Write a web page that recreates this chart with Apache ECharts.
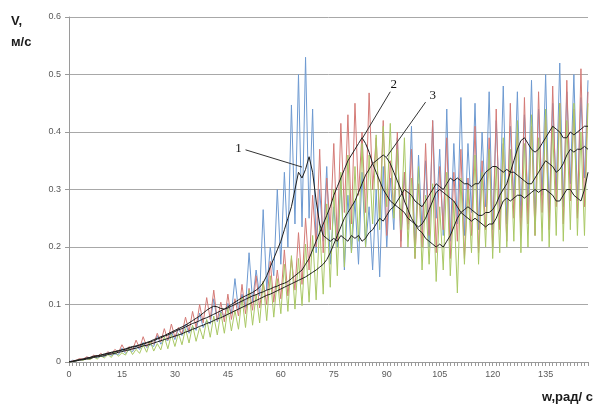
<!DOCTYPE html>
<html><head><meta charset="utf-8">
<script src="https://cdn.jsdelivr.net/npm/echarts@6/dist/echarts.min.js"></script>
<style>html,body{margin:0;padding:0;background:#fff}#c{width:595px;height:406px}</style>
</head><body><div id="c"></div>
<script>
// x categories: w, rad/s (0..147)
const categories = Array.from({length: 148}, (_, i) => String(i));
const xTickLabels = ['0','15','30','45','60','75','90','105','120','135'];
const yTickLabels = ['0','0.1','0.2','0.3','0.4','0.5','0.6'];

// noisy measured series
const series1 = [
0,0.003,0.002,0.005,0.004,0.008,0.005,0.011,0.007,0.010,
0.009,0.017,0.011,0.014,0.013,0.024,0.015,0.021,0.018,0.028,
0.022,0.034,0.025,0.030,0.027,0.046,0.031,0.040,0.037,0.052,
0.039,0.058,0.046,0.066,0.050,0.062,0.055,0.085,0.060,0.072,
0.066,0.110,0.070,0.088,0.078,0.102,0.084,0.145,0.090,0.118,
0.095,0.190,0.105,0.160,0.115,0.265,0.125,0.200,0.150,0.300,
0.170,0.330,0.200,0.447,0.240,0.500,0.235,0.530,0.250,0.440,
0.190,0.300,0.210,0.340,0.170,0.270,0.200,0.320,0.160,0.290,
0.190,0.280,0.170,0.330,0.200,0.270,0.160,0.300,0.148,0.340,
0.200,0.320,0.230,0.390,0.210,0.330,0.240,0.410,0.190,0.360,
0.230,0.350,0.200,0.420,0.250,0.370,0.220,0.440,0.210,0.380,
0.240,0.460,0.220,0.380,0.260,0.450,0.230,0.400,0.270,0.470,
0.230,0.420,0.260,0.480,0.240,0.410,0.280,0.470,0.250,0.430,
0.270,0.490,0.240,0.440,0.290,0.500,0.260,0.450,0.300,0.520,
0.270,0.470,0.310,0.500,0.280,0.460,0.320,0.490];
const series2 = [
0,0.002,0.003,0.006,0.005,0.009,0.007,0.012,0.009,0.015,
0.011,0.018,0.013,0.022,0.016,0.030,0.018,0.027,0.021,0.038,
0.024,0.044,0.027,0.036,0.031,0.050,0.035,0.058,0.038,0.066,
0.043,0.060,0.049,0.078,0.053,0.088,0.060,0.100,0.068,0.112,
0.074,0.125,0.072,0.104,0.070,0.118,0.074,0.110,0.080,0.135,
0.084,0.128,0.090,0.150,0.094,0.140,0.100,0.175,0.104,0.160,
0.110,0.195,0.115,0.180,0.125,0.225,0.135,0.250,0.160,0.290,
0.200,0.370,0.190,0.320,0.230,0.380,0.210,0.415,0.260,0.430,
0.240,0.450,0.290,0.400,0.260,0.468,0.300,0.390,0.250,0.420,
0.220,0.350,0.260,0.400,0.200,0.330,0.230,0.370,0.180,0.310,
0.200,0.380,0.220,0.420,0.190,0.340,0.230,0.390,0.180,0.330,
0.210,0.370,0.180,0.320,0.220,0.410,0.190,0.350,0.230,0.390,
0.200,0.440,0.230,0.380,0.210,0.450,0.250,0.400,0.220,0.460,
0.240,0.410,0.220,0.470,0.260,0.430,0.230,0.480,0.270,0.450,
0.240,0.490,0.280,0.440,0.250,0.510,0.270,0.470];
const series3 = [
0,0.001,0.002,0.004,0.003,0.006,0.004,0.009,0.005,0.011,
0.007,0.013,0.008,0.018,0.010,0.016,0.012,0.024,0.013,0.022,
0.015,0.030,0.017,0.036,0.019,0.032,0.021,0.044,0.023,0.048,
0.027,0.050,0.030,0.058,0.033,0.064,0.036,0.060,0.040,0.074,
0.043,0.080,0.047,0.086,0.050,0.094,0.054,0.090,0.057,0.112,
0.060,0.125,0.064,0.118,0.068,0.140,0.072,0.150,0.078,0.145,
0.084,0.170,0.088,0.185,0.092,0.180,0.098,0.205,0.104,0.220,
0.108,0.240,0.118,0.275,0.130,0.300,0.150,0.330,0.165,0.360,
0.190,0.340,0.210,0.380,0.200,0.360,0.240,0.395,0.230,0.410,
0.270,0.415,0.250,0.370,0.230,0.390,0.200,0.320,0.180,0.340,
0.160,0.290,0.170,0.310,0.140,0.270,0.160,0.330,0.150,0.280,
0.120,0.320,0.170,0.300,0.190,0.360,0.170,0.330,0.200,0.370,
0.180,0.340,0.190,0.390,0.200,0.370,0.210,0.420,0.190,0.380,
0.200,0.430,0.220,0.390,0.210,0.440,0.200,0.410,0.220,0.450,
0.210,0.420,0.230,0.450,0.220,0.400,0.220,0.450];

// smoothed curves 1, 2, 3
const smooth1 = [
0,0.001,0.002,0.004,0.005,0.006,0.008,0.009,0.011,0.012,
0.013,0.015,0.016,0.018,0.019,0.021,0.022,0.024,0.026,0.027,
0.029,0.031,0.033,0.035,0.037,0.040,0.042,0.045,0.047,0.050,
0.053,0.056,0.058,0.061,0.064,0.067,0.069,0.072,0.075,0.077,
0.080,0.083,0.086,0.089,0.092,0.096,0.100,0.104,0.108,0.112,
0.115,0.118,0.121,0.125,0.130,0.138,0.150,0.165,0.180,0.195,
0.210,0.230,0.250,0.270,0.300,0.330,0.320,0.335,0.357,0.330,
0.280,0.240,0.220,0.215,0.210,0.215,0.210,0.220,0.215,0.210,
0.220,0.215,0.220,0.210,0.215,0.225,0.230,0.240,0.250,0.245,
0.255,0.265,0.270,0.280,0.290,0.300,0.295,0.290,0.280,0.275,
0.270,0.280,0.290,0.300,0.310,0.305,0.300,0.310,0.320,0.315,
0.320,0.315,0.310,0.310,0.305,0.310,0.310,0.320,0.330,0.335,
0.340,0.340,0.335,0.330,0.335,0.330,0.330,0.325,0.320,0.315,
0.310,0.310,0.320,0.330,0.340,0.350,0.345,0.340,0.330,0.335,
0.345,0.360,0.370,0.365,0.370,0.370,0.375,0.370];
const smooth2 = [
0,0.001,0.003,0.004,0.005,0.007,0.008,0.010,0.011,0.012,
0.014,0.015,0.017,0.018,0.020,0.021,0.023,0.025,0.027,0.028,
0.030,0.032,0.034,0.036,0.039,0.041,0.044,0.046,0.049,0.052,
0.055,0.058,0.061,0.064,0.068,0.072,0.076,0.080,0.085,0.090,
0.094,0.097,0.096,0.093,0.092,0.094,0.097,0.100,0.103,0.106,
0.109,0.112,0.115,0.117,0.120,0.122,0.125,0.127,0.130,0.132,
0.135,0.137,0.140,0.145,0.150,0.155,0.160,0.170,0.180,0.195,
0.210,0.225,0.240,0.255,0.270,0.290,0.305,0.320,0.335,0.350,
0.360,0.370,0.380,0.390,0.380,0.365,0.345,0.330,0.315,0.300,
0.290,0.280,0.275,0.270,0.265,0.260,0.250,0.245,0.240,0.235,
0.240,0.250,0.265,0.280,0.295,0.300,0.295,0.290,0.285,0.280,
0.270,0.260,0.255,0.250,0.245,0.250,0.245,0.240,0.235,0.240,
0.240,0.250,0.265,0.280,0.285,0.280,0.285,0.290,0.290,0.285,
0.290,0.295,0.300,0.295,0.300,0.300,0.295,0.290,0.280,0.280,
0.290,0.300,0.300,0.290,0.285,0.280,0.300,0.330];
const smooth3 = [
0,0.001,0.002,0.003,0.004,0.005,0.006,0.008,0.009,0.010,
0.011,0.013,0.014,0.015,0.017,0.018,0.020,0.021,0.023,0.024,
0.026,0.028,0.029,0.031,0.033,0.035,0.037,0.039,0.041,0.043,
0.045,0.047,0.049,0.052,0.054,0.057,0.059,0.062,0.064,0.067,
0.069,0.072,0.075,0.077,0.080,0.083,0.086,0.089,0.092,0.095,
0.098,0.101,0.104,0.107,0.110,0.113,0.116,0.118,0.121,0.124,
0.127,0.130,0.133,0.136,0.139,0.142,0.145,0.148,0.152,0.156,
0.160,0.165,0.170,0.178,0.190,0.205,0.220,0.235,0.250,0.260,
0.270,0.280,0.295,0.310,0.325,0.335,0.345,0.350,0.355,0.360,
0.355,0.345,0.330,0.315,0.300,0.280,0.265,0.250,0.240,0.230,
0.225,0.215,0.210,0.205,0.200,0.205,0.200,0.210,0.220,0.235,
0.250,0.260,0.265,0.270,0.265,0.260,0.255,0.255,0.260,0.260,
0.265,0.275,0.290,0.300,0.310,0.330,0.350,0.370,0.385,0.390,
0.380,0.370,0.365,0.370,0.380,0.390,0.400,0.410,0.405,0.400,
0.390,0.390,0.400,0.395,0.400,0.405,0.410,0.410];

// annotation labels (data units)
const annText = ['1', '2', '3'];
const annLabelPos = [[47.5, 0.372], [92, 0.483], [102.5, 0.464]];
const annLineFrom = [[49.6, 0.369], [91.2, 0.470], [100.8, 0.452]];
const annLineTo = [[66, 0.339], [83, 0.388], [90, 0.357]];

const chart = echarts.init(document.getElementById('c'), null, {renderer: 'canvas'});
const noisy = (name, data, color) => ({
  name, type: 'line', data, showSymbol: false, symbol: 'none',
  lineStyle: {color, width: 1}, itemStyle: {color}, animation: false, z: 2
});
const smooth = (name, data) => ({
  name, type: 'line', data, showSymbol: false, symbol: 'none',
  lineStyle: {color: '#1e1e1e', width: 1}, itemStyle: {color: '#1e1e1e'}, animation: false, z: 3
});
chart.setOption({
  animation: false,
  backgroundColor: '#fff',
  grid: {left: 69, right: 7, top: 17, bottom: 44},
  xAxis: {
    type: 'category', data: categories, boundaryGap: false,
    axisLine: {lineStyle: {color: '#9a9a9a', width: 1}},
    axisTick: {show: true, interval: 0, length: 4, lineStyle: {color: '#9a9a9a'}},
    axisLabel: {
      interval: 0, margin: 8, color: '#595959', fontSize: 9, fontFamily: 'Liberation Sans, Arial',
      formatter: v => xTickLabels.includes(v) ? v : ''
    },
    splitLine: {show: false}
  },
  yAxis: {
    type: 'value', min: 0, max: 0.6, interval: 0.1,
    axisLine: {show: true, lineStyle: {color: '#9a9a9a'}},
    axisTick: {show: true, length: 4, lineStyle: {color: '#9a9a9a'}},
    axisLabel: {
      margin: 8, color: '#595959', fontSize: 9, fontFamily: 'Liberation Sans, Arial',
      formatter: v => yTickLabels[Math.round(v * 10)]
    },
    splitLine: {show: true, lineStyle: {color: '#a8a8a8', width: 1}}
  },
  series: [
    noisy('1', series1, '#6e9ad1'),
    noisy('2', series2, '#d47a76'),
    noisy('3', series3, '#a9c865'),
    smooth('avg1', smooth1),
    smooth('avg2', smooth2),
    smooth('avg3', smooth3)
  ]
});

const px = p => chart.convertToPixel({gridIndex: 0}, p);
const elements = [
  {type: 'text', left: 11, top: 15, style: {text: 'V,', font: 'bold 13px "Liberation Sans", Arial', fill: '#1a1a1a'}},
  {type: 'text', left: 11, top: 36, style: {text: 'м/с', font: 'bold 13px "Liberation Sans", Arial', fill: '#1a1a1a'}},
  {type: 'text', right: 2, top: 391, style: {text: 'w,рад/ с', font: 'bold 13px "Liberation Sans", Arial', fill: '#1a1a1a'}}
];
annText.forEach((t, i) => {
  const lp = px(annLabelPos[i]);
  const a = px(annLineFrom[i]);
  const b = px(annLineTo[i]);
  elements.push({type: 'text', x: lp[0], y: lp[1], z: 10,
    style: {text: t, font: '13px "Liberation Serif", "Times New Roman", serif', fill: '#111', textAlign: 'center', textVerticalAlign: 'middle'}});
  elements.push({type: 'line', z: 10, shape: {x1: a[0], y1: a[1], x2: b[0], y2: b[1]}, style: {stroke: '#333', lineWidth: 1}});
});
chart.setOption({graphic: {elements}});
</script>
</body></html>
